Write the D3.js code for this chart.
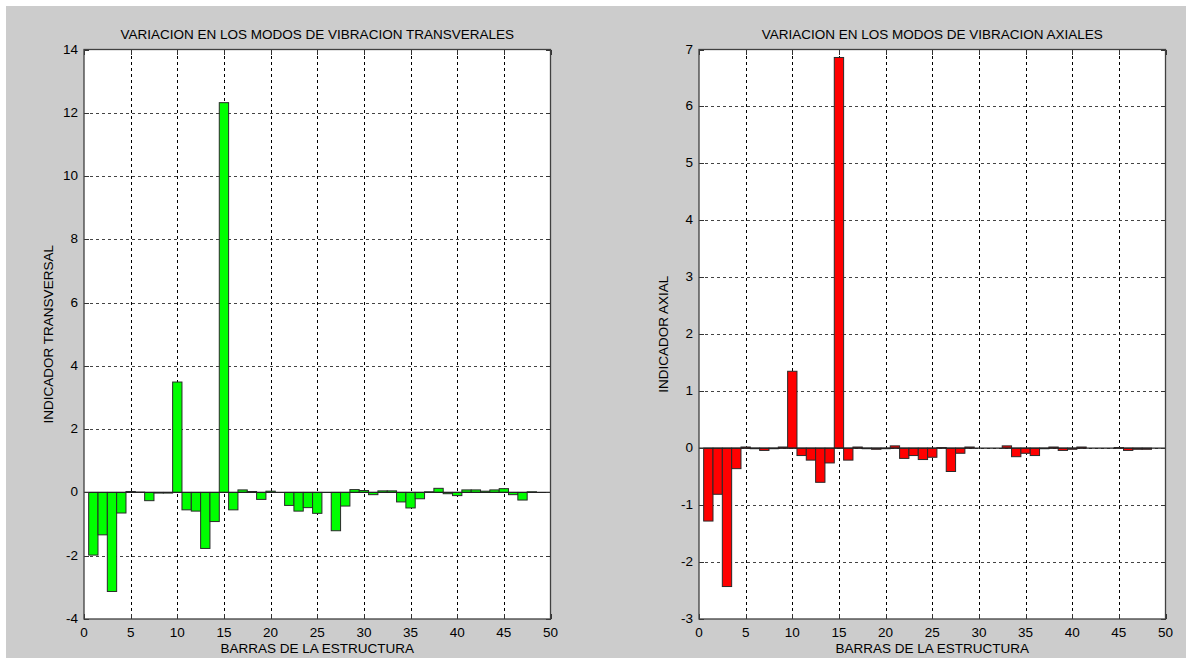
<!DOCTYPE html>
<html>
<head>
<meta charset="utf-8">
<script src="https://cdn.jsdelivr.net/npm/d3@7"></script>
<style>
  html, body { margin: 0; padding: 0; background: #fff; }
  svg { display: block; }
  text { font-family: "Liberation Sans", Arial, sans-serif; fill: #000; }
</style>
</head>
<body>
<svg id="fig" width="1186" height="658"></svg>
<script>
// Indicator per structural bar (bars 1..48)
const barNumbers = d3.range(1, 49);

const transversal = [
  -1.98, -1.34, -3.13, -0.65, 0.03, 0.01, -0.26, -0.02, -0.02, 3.49,
  -0.55, -0.59, -1.77, -0.92, 12.32, -0.55, 0.08, 0.03, -0.22, 0.04,
  0.00, -0.41, -0.59, -0.48, -0.66, 0.00, -1.21, -0.43, 0.09, 0.06,
  -0.07, 0.05, 0.05, -0.30, -0.49, -0.20, 0.02, 0.13, -0.04, -0.10,
  0.08, 0.08, 0.04, 0.08, 0.12, -0.07, -0.24, 0.02
];

const axial = [
  -1.28, -0.81, -2.43, -0.36, 0.02, -0.01, -0.04, -0.01, 0.02, 1.35,
  -0.13, -0.21, -0.60, -0.26, 6.86, -0.21, 0.02, -0.01, -0.02, -0.01,
  0.04, -0.18, -0.13, -0.20, -0.16, 0.01, -0.41, -0.09, 0.02, 0.00,
  0.00, 0.00, 0.04, -0.15, -0.09, -0.13, -0.01, 0.02, -0.04, -0.02,
  0.02, 0.00, 0.00, 0.00, 0.01, -0.04, -0.02, -0.02
];

const xTicks = d3.range(0, 51, 5);
const yTicksTransversal = d3.range(-4, 15, 2);
const yTicksAxial = d3.range(-3, 8, 1);

const FONT = 13.5;
const svg = d3.select("#fig");

// figure background (grey panel with a thin white margin top/left)
svg.append("rect").attr("x", 0).attr("y", 0).attr("width", 1186).attr("height", 658).attr("fill", "#ffffff");
svg.append("rect").attr("x", 6).attr("y", 6).attr("width", 1180).attr("height", 652).attr("fill", "#cccccc");

function drawPanel(opts) {
  const { left, right, top, bottom, values, yDomain, yTicks, color, title, ylabel } = opts;
  const x = d3.scaleLinear().domain([0, 50]).range([left, right]);
  const y = d3.scaleLinear().domain(yDomain).range([bottom, top]);
  const g = svg.append("g");

  g.append("rect")
    .attr("x", left).attr("y", top)
    .attr("width", right - left).attr("height", bottom - top)
    .attr("fill", "#ffffff");

  // dotted grid
  const grid = g.append("g").attr("stroke", "#000").attr("stroke-width", 1)
    .attr("stroke-dasharray", "3,3").attr("shape-rendering", "crispEdges");
  grid.selectAll("line.vx").data(xTicks.slice(1, -1)).join("line")
    .attr("x1", d => Math.round(x(d)) + 0.5).attr("x2", d => Math.round(x(d)) + 0.5)
    .attr("y1", top).attr("y2", bottom);
  grid.selectAll("line.hy").data(yTicks.slice(1, -1)).join("line")
    .attr("y1", d => Math.round(y(d)) + 0.5).attr("y2", d => Math.round(y(d)) + 0.5)
    .attr("x1", left).attr("x2", right).attr("stroke", "#444");

  // bars, one unit wide, centred on the bar number
  g.append("g").selectAll("rect").data(barNumbers).join("rect")
    .attr("x", d => x(d - 0.5))
    .attr("width", d => x(d + 0.5) - x(d - 0.5))
    .attr("y", (d, i) => y(Math.max(0, values[i])))
    .attr("height", (d, i) => Math.abs(y(values[i]) - y(0)))
    .attr("fill", color)
    .attr("stroke", "#2a2a2a")
    .attr("stroke-width", 1);

  // baseline
  g.append("line")
    .attr("x1", left).attr("x2", right)
    .attr("y1", y(0)).attr("y2", y(0))
    .attr("stroke", "#222").attr("stroke-width", 1.2);

  // inward ticks on all four sides
  const tk = 5;
  const ticks = g.append("g").attr("stroke", "#333").attr("stroke-width", 1).attr("shape-rendering", "crispEdges");
  xTicks.forEach(d => {
    const xx = Math.round(x(d)) + 0.5;
    ticks.append("line").attr("x1", xx).attr("x2", xx).attr("y1", bottom).attr("y2", bottom - tk);
    ticks.append("line").attr("x1", xx).attr("x2", xx).attr("y1", top).attr("y2", top + tk);
  });
  yTicks.forEach(d => {
    const yy = Math.round(y(d)) + 0.5;
    ticks.append("line").attr("y1", yy).attr("y2", yy).attr("x1", left).attr("x2", left + tk);
    ticks.append("line").attr("y1", yy).attr("y2", yy).attr("x1", right).attr("x2", right - tk);
  });

  // frame
  g.append("rect")
    .attr("x", left).attr("y", top)
    .attr("width", right - left).attr("height", bottom - top)
    .attr("fill", "none").attr("stroke", "#404040").attr("stroke-width", 1.3);

  // tick labels
  g.append("g").selectAll("text").data(xTicks).join("text")
    .attr("x", d => x(d)).attr("y", bottom + 18)
    .attr("text-anchor", "middle").attr("font-size", FONT)
    .text(d => d);
  g.append("g").selectAll("text").data(yTicks).join("text")
    .attr("x", left - 6).attr("y", d => y(d) + 4)
    .attr("text-anchor", "end").attr("font-size", FONT)
    .text(d => d);

  // titles
  g.append("text")
    .attr("x", (left + right) / 2).attr("y", 39)
    .attr("text-anchor", "middle").attr("font-size", FONT)
    .text(title);
  g.append("text")
    .attr("x", (left + right) / 2).attr("y", 653)
    .attr("text-anchor", "middle").attr("font-size", FONT)
    .text("BARRAS DE LA ESTRUCTURA");
  g.append("text")
    .attr("transform", `translate(${left - 31},${(top + bottom) / 2}) rotate(-90)`)
    .attr("text-anchor", "middle").attr("font-size", FONT)
    .text(ylabel);
}

drawPanel({
  left: 84, right: 550.5, top: 49.5, bottom: 619,
  values: transversal, yDomain: [-4, 14], yTicks: yTicksTransversal,
  color: "#00ff00",
  title: "VARIACION EN LOS MODOS DE VIBRACION TRANSVERALES",
  ylabel: "INDICADOR TRANSVERSAL"
});

drawPanel({
  left: 699, right: 1165.5, top: 49.5, bottom: 619,
  values: axial, yDomain: [-3, 7], yTicks: yTicksAxial,
  color: "#ff0000",
  title: "VARIACION EN LOS MODOS DE VIBRACION AXIALES",
  ylabel: "INDICADOR AXIAL"
});
</script>
</body>
</html>
